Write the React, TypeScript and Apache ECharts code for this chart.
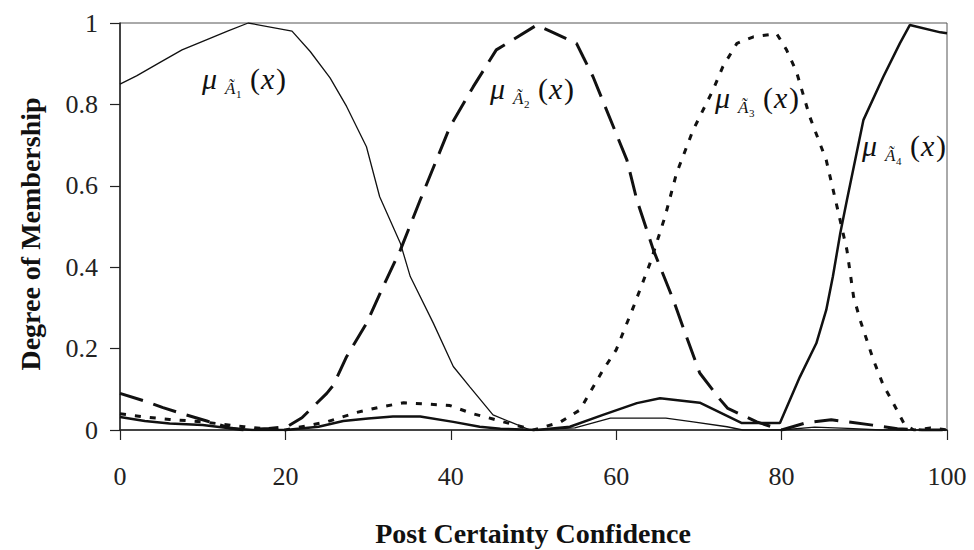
import React, { useEffect, useRef } from "react";
import * as echarts from "echarts";

// Membership functions of the four fuzzy sets over post certainty confidence.
const a1X = [0, 2, 5, 7.5, 10, 13, 15.5, 20.8, 23, 25.4, 27.4, 29.8, 31.4, 33.9, 35.1, 37.9, 40.3, 42.3, 45.1, 49.6, 55, 59.3, 66, 69.3, 73.4, 75.3, 80, 84, 88, 92, 100];
const a1Y = [0.85, 0.87, 0.905, 0.934, 0.955, 0.98, 1.0, 0.98, 0.93, 0.865, 0.795, 0.696, 0.573, 0.459, 0.377, 0.262, 0.156, 0.106, 0.037, 0.0, 0.005, 0.029, 0.029, 0.02, 0.008, 0.0, 0.0, 0.007, 0.004, 0.0, 0.0];

const a2X = [0, 3, 5.2, 8, 10.5, 13.3, 15, 18, 20.2, 22, 25, 25.8, 27.4, 29.8, 32.2, 33.9, 36.3, 39.9, 42.7, 45.5, 50.4, 52, 55.2, 56, 57.2, 61.3, 62.5, 64.5, 66.9, 68.5, 70.1, 72.6, 73.5, 77, 80, 83, 86, 88, 91, 94, 97, 100];
const a2Y = [0.09, 0.071, 0.055, 0.037, 0.022, 0.005, 0.0, 0.004, 0.008, 0.03, 0.09, 0.11, 0.18, 0.262, 0.369, 0.442, 0.565, 0.745, 0.843, 0.934, 0.995, 0.98, 0.95, 0.917, 0.868, 0.663, 0.565, 0.442, 0.32, 0.229, 0.14, 0.074, 0.053, 0.02, 0.0, 0.018, 0.025, 0.02, 0.012, 0.003, 0.0, 0.0];

const a3X = [0, 3, 6, 10, 15, 18, 20, 22, 25, 28.6, 31.4, 34.3, 36.9, 39.9, 42.5, 45.1, 50, 53.2, 55.6, 57, 58.4, 60, 62.1, 64.1, 65.9, 67.3, 69.3, 71.7, 72.9, 74.6, 76.6, 79.4, 80.6, 81.8, 83.4, 85.4, 86.7, 87.9, 88.7, 89.5, 91.1, 92.3, 93.5, 94.9, 96, 98, 100];
const a3Y = [0.04, 0.032, 0.026, 0.02, 0.008, 0.002, 0.0, 0.008, 0.02, 0.043, 0.056, 0.067, 0.064, 0.06, 0.041, 0.027, 0.0, 0.019, 0.049, 0.098, 0.147, 0.197, 0.303, 0.41, 0.524, 0.631, 0.737, 0.835, 0.893, 0.95, 0.966, 0.974, 0.934, 0.88, 0.77, 0.663, 0.549, 0.442, 0.328, 0.27, 0.172, 0.11, 0.066, 0.012, 0.0, 0.005, 0.0];

const a4X = [0, 3, 6, 10, 13, 16, 20, 24, 27, 30, 33, 36.3, 40.3, 43.5, 46, 50.4, 54.4, 58.4, 62.5, 65.3, 70.1, 75.2, 79.8, 82.2, 84.2, 85.4, 86.2, 87.1, 87.9, 89.9, 92.3, 94.3, 95.5, 99.2, 100];
const a4Y = [0.032, 0.022, 0.016, 0.012, 0.005, 0.0, 0.0, 0.008, 0.022, 0.028, 0.033, 0.033, 0.02, 0.008, 0.003, 0.0, 0.008, 0.037, 0.066, 0.078, 0.067, 0.017, 0.017, 0.13, 0.213, 0.295, 0.377, 0.484, 0.565, 0.762, 0.868, 0.95, 0.995, 0.977, 0.975];

const xTicks = { min: 0, max: 100, interval: 20 };
const yTicks = { min: 0, max: 1, interval: 0.2 };

const serif = "Liberation Serif";
const ink = "#111";

const zip = (xs: number[], ys: number[]) => xs.map((x, i) => [x, ys[i]]);

const txt = (size: number, italic = false, bold = false) => ({
  fontFamily: serif,
  fontSize: size,
  fontStyle: italic ? "italic" : "normal",
  fontWeight: bold ? "bold" : "normal",
  fill: ink,
});

// One "μ_Ã_k (x)" annotation built from small text pieces.
function muLabel(left: number, mid: number, k: number) {
  return {
    type: "group",
    children: [
      { type: "text", x: left, y: mid, style: { text: "μ", ...txt(30, true), verticalAlign: "middle" } },
      { type: "text", x: left + 23, y: mid + 10, style: { text: "Ã", ...txt(17, true), verticalAlign: "middle" } },
      { type: "text", x: left + 34, y: mid + 16, style: { text: String(k), ...txt(11), verticalAlign: "middle" } },
      { type: "text", x: left + 48, y: mid, style: { text: "(", ...txt(30), verticalAlign: "middle" } },
      { type: "text", x: left + 59, y: mid, style: { text: "x", ...txt(30, true), verticalAlign: "middle" } },
      { type: "text", x: left + 74, y: mid, style: { text: ")", ...txt(30), verticalAlign: "middle" } },
    ],
  };
}

export default function App() {
  const ref = useRef<HTMLDivElement>(null);

  useEffect(() => {
    document.body.style.margin = "0";
    const chart = echarts.init(ref.current!, null, { renderer: "svg" });
    const lineBase = { type: "line", showSymbol: false, symbol: "none", smooth: false, z: 3 };
    chart.setOption({
      animation: false,
      backgroundColor: "#fff",
      textStyle: { fontFamily: serif },
      grid: { left: 120, right: 27, top: 23, bottom: 120, show: true, borderColor: "#555", borderWidth: 1 },
      xAxis: {
        type: "value",
        ...xTicks,
        axisLine: { show: true, lineStyle: { color: "#222", width: 1.5 } },
        axisTick: { show: true, inside: false, length: 10, lineStyle: { color: "#222", width: 1.2 } },
        axisLabel: { fontSize: 26, fontFamily: serif, color: "#222", margin: 33 },
        splitLine: { show: false },
      },
      yAxis: {
        type: "value",
        ...yTicks,
        axisLine: { show: true, lineStyle: { color: "#222", width: 1.5 } },
        axisTick: { show: true, inside: false, length: 10, lineStyle: { color: "#222", width: 1.2 } },
        axisLabel: { fontSize: 26, fontFamily: serif, color: "#222", margin: 22 },
        splitLine: { show: false },
      },
      series: [
        { ...lineBase, name: "A1", data: zip(a1X, a1Y), lineStyle: { color: ink, width: 1.3, type: "solid" } },
        { ...lineBase, name: "A2", data: zip(a2X, a2Y), lineStyle: { color: ink, width: 3, type: [24, 11], cap: "butt" } },
        { ...lineBase, name: "A3", data: zip(a3X, a3Y), lineStyle: { color: ink, width: 3, type: [6, 9], cap: "butt" } },
        { ...lineBase, name: "A4", data: zip(a4X, a4Y), lineStyle: { color: ink, width: 2.5, type: "solid" } },
      ],
      graphic: [
        muLabel(202, 78, 1),
        muLabel(490, 88, 2),
        muLabel(715, 97, 3),
        muLabel(862, 145, 4),
        {
          type: "text",
          x: 533,
          y: 533,
          style: { text: "Post Certainty Confidence", ...txt(28, false, true), align: "center", verticalAlign: "middle" },
        },
        {
          type: "text",
          x: 30,
          y: 234,
          rotation: Math.PI / 2,
          style: { text: "Degree of Membership", ...txt(28, false, true), align: "center", verticalAlign: "middle" },
        },
      ],
    });
    return () => chart.dispose();
  }, []);

  return <div ref={ref} style={{ width: 974, height: 550 }} />;
}
